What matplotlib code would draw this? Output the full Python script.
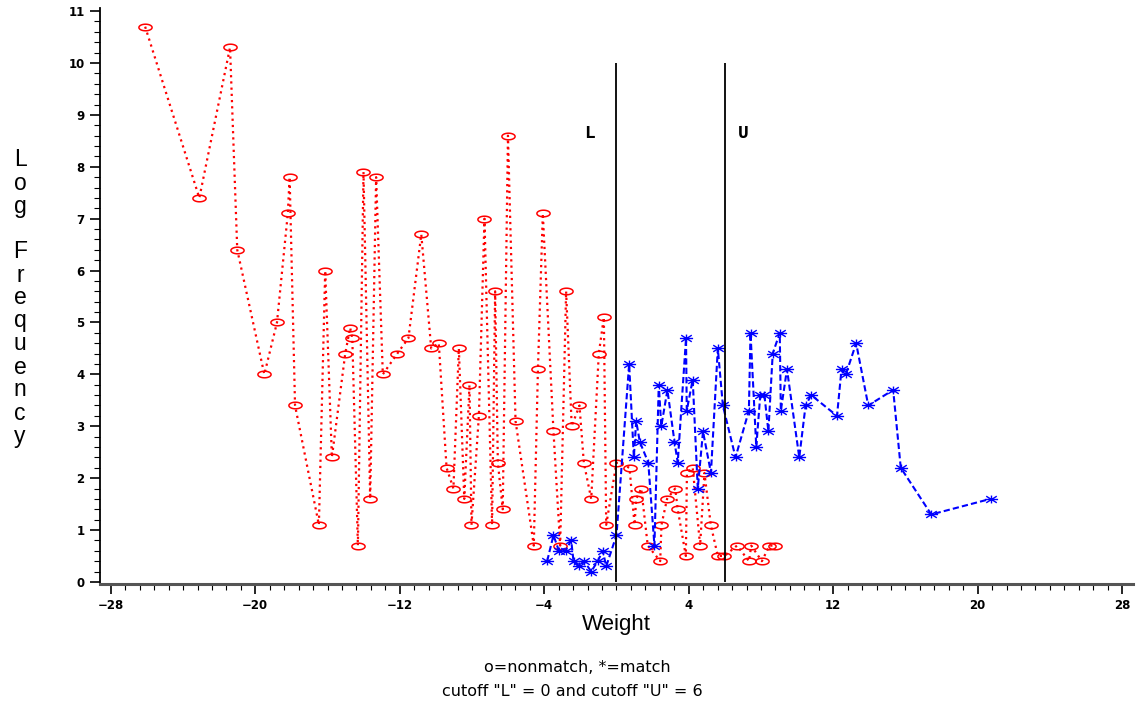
import numpy as np
import matplotlib
matplotlib.use("Agg")
import matplotlib.pyplot as plt
from matplotlib.path import Path
from matplotlib.ticker import MultipleLocator

# nonmatch (o) : weight, log frequency
nonmatch_w = [-26.1, -23.1, -21.4, -21.0, -19.5, -18.8, -18.2, -18.1, -17.8, -16.48,
              -16.13, -15.76, -15.02, -14.75, -14.63, -14.32, -14.01, -13.64, -13.31, -12.94,
              -12.14, -11.52, -10.81, -10.26, -9.84, -9.41, -9.03, -8.73, -8.43, -8.14,
              -8.03, -7.62, -7.31, -6.89, -6.72, -6.57, -6.30, -6.01, -5.59, -4.58,
              -4.35, -4.08, -3.49, -3.12, -2.79, -2.48, -2.05, -1.81, -1.40, -0.98,
              -0.70, -0.57, 0.0, 0.72, 1.00, 1.09, 1.37, 1.73, 2.42, 2.49,
              2.80, 3.25, 3.39, 3.84, 3.90, 4.22, 4.63, 4.87, 5.22, 5.61,
              5.98, 6.67, 7.34, 7.46, 8.05, 8.47, 8.77]
nonmatch_f = [10.7, 7.4, 10.3, 6.4, 4.0, 5.0, 7.1, 7.8, 3.4, 1.1,
              6.0, 2.4, 4.4, 4.9, 4.7, 0.7, 7.9, 1.6, 7.8, 4.0,
              4.4, 4.7, 6.7, 4.5, 4.6, 2.2, 1.8, 4.5, 1.6, 3.8,
              1.1, 3.2, 7.0, 1.1, 5.6, 2.3, 1.4, 8.6, 3.1, 0.7,
              4.1, 7.1, 2.9, 0.7, 5.6, 3.0, 3.4, 2.3, 1.6, 4.4,
              5.1, 1.1, 2.3, 2.2, 1.1, 1.6, 1.8, 0.7, 0.4, 1.1,
              1.6, 1.8, 1.4, 0.5, 2.1, 2.2, 0.7, 2.1, 1.1, 0.5,
              0.5, 0.7, 0.4, 0.7, 0.4, 0.7, 0.7]

# match (*) : weight, log frequency
match_w = [-3.84, -3.49, -3.19, -2.82, -2.51, -2.38, -2.09, -1.79, -1.40, -1.04,
           -0.76, -0.57, 0.0, 0.70, 0.96, 1.09, 1.29, 1.76, 2.10, 2.34,
           2.48, 2.82, 3.21, 3.39, 3.85, 3.89, 4.22, 4.50, 4.79, 5.23,
           5.61, 5.89, 6.59, 7.33, 7.42, 7.74, 7.96, 8.19, 8.41, 8.65,
           9.04, 9.10, 9.44, 10.12, 10.47, 10.78, 12.21, 12.46, 12.70, 13.27,
           13.94, 15.32, 15.74, 17.43, 20.71]
match_f = [0.4, 0.9, 0.6, 0.6, 0.8, 0.4, 0.3, 0.4, 0.2, 0.4,
           0.6, 0.3, 0.9, 4.2, 2.4, 3.1, 2.7, 2.3, 0.7, 3.8,
           3.0, 3.7, 2.7, 2.3, 4.7, 3.3, 3.9, 1.8, 2.9, 2.1,
           4.5, 3.4, 2.4, 3.3, 4.8, 2.6, 3.6, 3.6, 2.9, 4.4,
           4.8, 3.3, 4.1, 2.4, 3.4, 3.6, 3.2, 4.1, 4.0, 4.6,
           3.4, 3.7, 2.2, 1.3, 1.6]

cutoff_L = 0
cutoff_U = 6

# SAS 스타일 마커 (옆으로 납작한 원, 별표)
t = np.linspace(0, 2 * np.pi, 41)
ellipse = Path(np.column_stack([np.cos(t), 0.5 * np.sin(t)]), closed=True)
star_verts = [(-1, 0), (1, 0), (0, -0.6), (0, 0.6),
              (-0.8, -0.5), (0.8, 0.5), (-0.8, 0.5), (0.8, -0.5)]
star_codes = [Path.MOVETO, Path.LINETO] * 4
star = Path(star_verts, star_codes)

fig = plt.figure(figsize=(11.41, 7.06), dpi=100)
W, H = 1141, 706
ax = fig.add_axes([100 / W, (H - 584) / H, (1133 - 100) / W, (584 - 8) / H])

ax.plot(nonmatch_w, nonmatch_f, color="red", linestyle=(0, (1, 1.8)), linewidth=1.6,
        marker=ellipse, markersize=9.5, markerfacecolor="none", markeredgecolor="red",
        markeredgewidth=1.1)
ax.plot(match_w, match_f, color="blue", linestyle=(0, (3, 1.5)), linewidth=1.5,
        marker=star, markersize=9.5, markerfacecolor="none", markeredgecolor="blue",
        markeredgewidth=1.0)

# 컷오프 선
ax.vlines([cutoff_L, cutoff_U], 0, 10, color="black", linewidth=1.3)
ax.text(-1.5, 8.65, "L", fontsize=13, fontweight="bold", family="Liberation Mono",
        ha="center", va="center")
ax.text(7.0, 8.65, "U", fontsize=13, fontweight="bold", family="Liberation Mono",
        ha="center", va="center")

ax.set_xlim(-28.6, 28.6)
ax.set_ylim(-0.04, 11.06)
ax.set_xticks(np.arange(-28, 29, 8))
ax.set_yticks(np.arange(0, 12, 1))
ax.xaxis.set_minor_locator(MultipleLocator(0.8))
ax.yaxis.set_minor_locator(MultipleLocator(0.2))
ax.tick_params(which="major", length=7, width=1.2, labelsize=8.5, pad=4)
ax.tick_params(which="minor", length=4, width=0.8)
for lab in ax.get_xticklabels() + ax.get_yticklabels():
    lab.set_fontweight("bold")

ax.spines["top"].set_visible(False)
ax.spines["right"].set_visible(False)
ax.spines["bottom"].set_linewidth(2.2)
ax.spines["bottom"].set_color("#555555")
ax.spines["left"].set_linewidth(1.3)

ax.set_xlabel("Weight", fontsize=16, family="Liberation Sans", labelpad=1)

# 세로로 한 글자씩 쓴 y축 제목
fig.text(20 / W, 1 - 298 / H, "\n".join("Log Frequency"), fontsize=16.5,
         family="Liberation Sans", ha="center", va="center", linespacing=1.0)

fig.text(577 / W, 1 - 668 / H, "o=nonmatch, *=match", fontsize=11.5,
         family="DejaVu Sans", ha="center", va="center")
fig.text(572 / W, 1 - 692 / H, "cutoff \"L\" = 0 and cutoff \"U\" = 6", fontsize=11.5,
         family="DejaVu Sans", ha="center", va="center")

fig.savefig("out.png", dpi=100)
